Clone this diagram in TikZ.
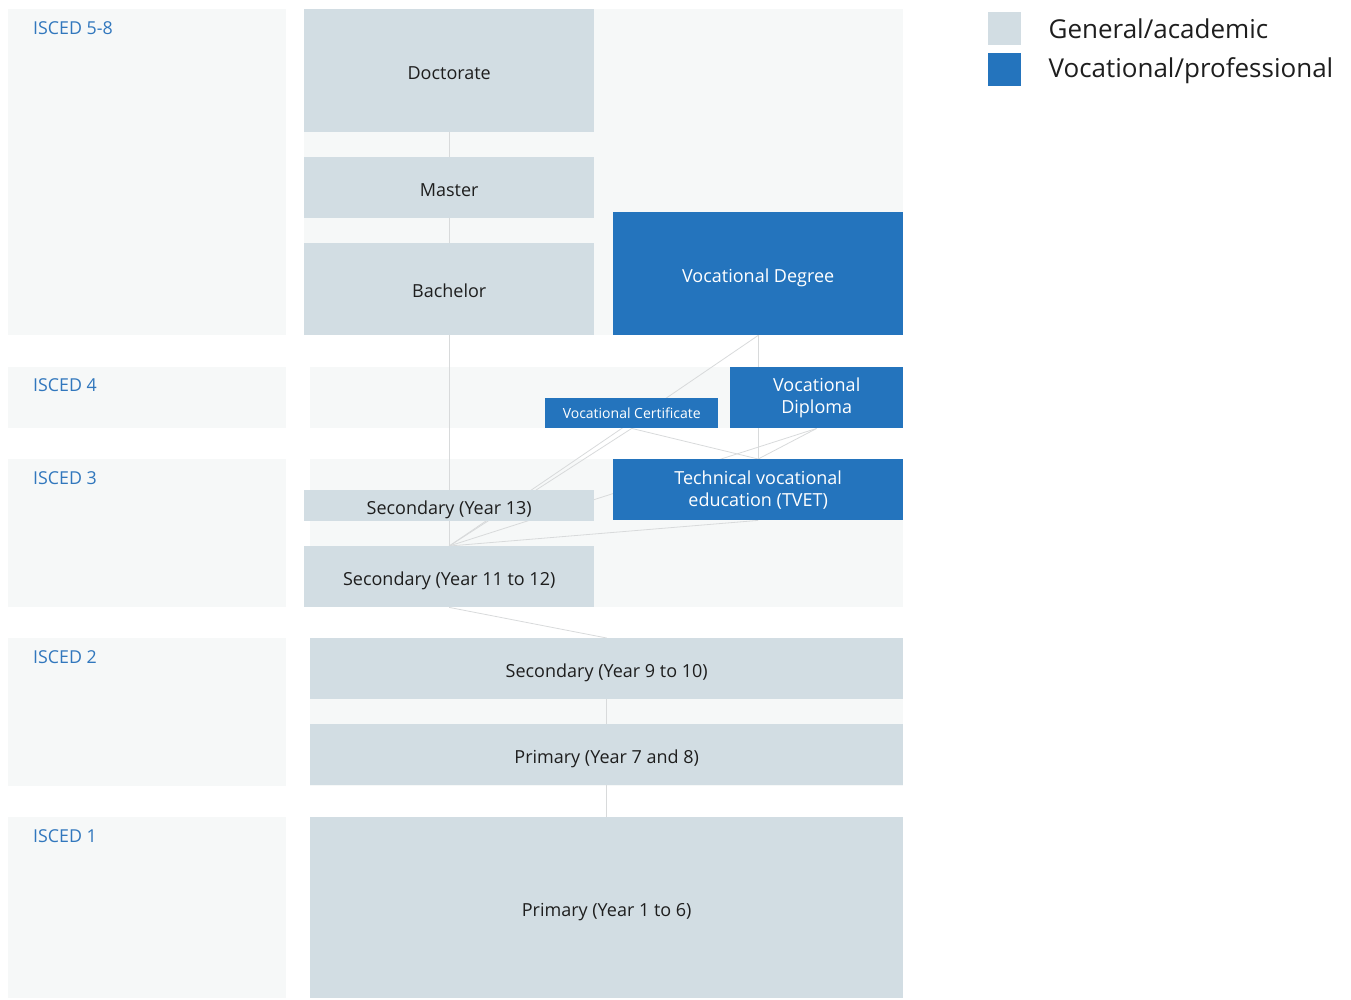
\documentclass[tikz,border=0pt]{standalone}
\usepackage{fontspec}
\setmainfont{Open Sans}
\usetikzlibrary{positioning}
\definecolor{iscgen}{HTML}{D2DDE3}
\definecolor{iscvoc}{HTML}{2474BD}
\definecolor{iscband}{HTML}{F6F8F8}
\definecolor{iscblue}{HTML}{3177BD}
\definecolor{isclink}{HTML}{D8DADB}
\definecolor{isctext}{HTML}{1E1E1E}
\pgfdeclarelayer{bands}
\pgfdeclarelayer{links}
\pgfsetlayers{bands,links,main}

\begin{document}
\begin{tikzpicture}[
  x=1pt,y=-1pt,
  box/.style={anchor=north west,inner sep=0pt,align=center,
              font=\fontsize{18}{22}\selectfont,text=isctext},
  oneline/.style={text height=16.8pt,text depth=0pt},
  gen/.style={box,oneline,fill=iscgen},
  voc/.style={box,fill=iscvoc,text=white},
  lvl/.style={anchor=base west,inner sep=0pt,font=\fontsize{17.8}{21}\selectfont,text=iscblue},
  key/.style={anchor=north west,inner sep=0pt,minimum size=33pt},
  keytxt/.style={anchor=west,inner sep=0pt,font=\fontsize{26}{30}\selectfont,text=isctext},
  link/.style={draw=isclink,line width=0.8pt}
]
  \useasboundingbox (0,0) rectangle (1351,999);

  % level bands
  \begin{pgfonlayer}{bands}
    \fill[iscband] (8,9) rectangle (286,335);
    \fill[iscband] (8,367) rectangle (286,428);
    \fill[iscband] (8,459) rectangle (286,607);
    \fill[iscband] (8,638) rectangle (286,786);
    \fill[iscband] (8,817) rectangle (286,998);
    \fill[iscband] (304,9) rectangle (903,335);
    \fill[iscband] (310,367) rectangle (903,428);
    \fill[iscband] (310,459) rectangle (903,607);
    \fill[iscband] (310,638) rectangle (903,786);
    \fill[iscband] (310,817) rectangle (903,998);
  \end{pgfonlayer}
  \node[lvl] (l58) at (33,34) {ISCED 5-8};
  \node[lvl] (l4) at (33,391) {ISCED 4};
  \node[lvl] (l3) at (33,484) {ISCED 3};
  \node[lvl] (l2) at (33,663) {ISCED 2};
  \node[lvl] (l1) at (33,842) {ISCED 1};

  % general/academic
  \node[gen,minimum width=290pt,minimum height=123pt] (doct) at (304,9) {Doctorate};
  \node[gen,minimum width=290pt,minimum height=61pt] (mast) at (304,157) {Master};
  \node[gen,minimum width=290pt,minimum height=92pt] (bach) at (304,243) {Bachelor};
  \node[gen,minimum width=290pt,minimum height=31pt] (sec13) at (304,490) {Secondary (Year 13)};
  \node[gen,minimum width=290pt,minimum height=61pt] (sec11) at (304,546) {Secondary (Year 11 to 12)};
  \node[gen,minimum width=593pt,minimum height=61pt] (sec9) at (310,638) {Secondary (Year 9 to 10)};
  \node[gen,minimum width=593pt,minimum height=61pt] (prim7) at (310,724) {Primary (Year 7 and 8)};
  \node[gen,minimum width=593pt,minimum height=181pt] (prim1) at (310,817) {Primary (Year 1 to 6)};

  % vocational/professional
  \node[voc,oneline,minimum width=290pt,minimum height=123pt] (vdeg) at (613,212) {Vocational Degree};
  \node[voc,minimum width=173pt,minimum height=30pt,font=\fontsize{14}{17}\selectfont] (vcert) at (545,398) {Vocational Certificate};
  \node[voc,minimum width=173pt,minimum height=61pt] (vdip) at (730,367) {Vocational\\Diploma};
  \node[voc,minimum width=290pt,minimum height=61pt] (tvet) at (613,459) {Technical vocational\\education (TVET)};

  \begin{pgfonlayer}{links}
    \draw[link] (doct.south) -- (mast.north);
    \draw[link] (mast.south) -- (bach.north);
    \draw[link] (bach.south) -- (sec13.north);
    \draw[link] (vdeg.south) -- (tvet.north);
    \draw[link] (vdeg.south) -- (sec11.north);
    \draw[link] (vcert.south) -- (tvet.north);
    \draw[link] (vcert.south) -- (sec11.north);
    \draw[link] (vdip.south) -- (tvet.north);
    \draw[link] (vdip.south) -- (sec11.north);
    \draw[link] (tvet.south) -- (sec11.north);
    \draw[link] (sec13.south) -- (sec11.north);
    \draw[link] (sec11.south) -- (sec9.north);
    \draw[link] (sec9.south) -- (prim7.north);
    \draw[link] (prim7.south) -- (prim1.north);
  \end{pgfonlayer}

  % legend
  \node[key,fill=iscgen] (kgen) at (988,12) {};
  \node[key,fill=iscvoc] (kvoc) at (988,53) {};
  \node[keytxt,right=27pt of kgen] (tgen) {General/academic};
  \node[keytxt,right=27pt of kvoc,yshift=-1pt] (tvoc) {Vocational/professional};
\end{tikzpicture}
\end{document}
